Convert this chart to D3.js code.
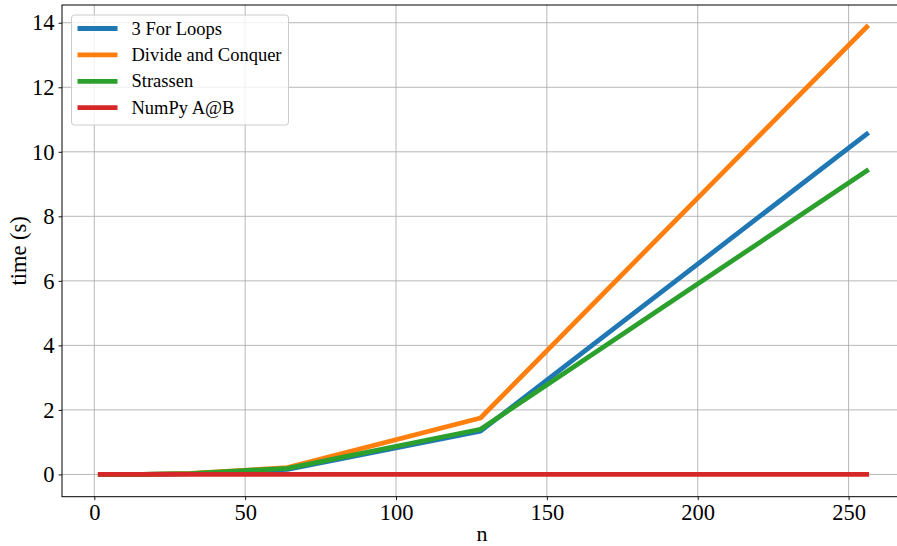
<!DOCTYPE html>
<html>
<head>
<meta charset="utf-8">
<script src="https://cdn.jsdelivr.net/npm/d3@7"></script>
<style>
  body { margin: 0; background: #fff; }
  svg { display: block; font-family: "Liberation Serif", "DejaVu Serif", serif; }
  .grid line { stroke: #b0b0b0; stroke-width: 0.9; }
</style>
</head>
<body>
<svg id="chart" width="897" height="546"></svg>
<script>
// matrix size n and run time in seconds
const sizes = [2, 4, 8, 16, 32, 64, 128, 256];
const forLoops = [0.0001, 0.0003, 0.0008, 0.004, 0.025, 0.16, 1.34, 10.55];
const divideConquer = [0.0001, 0.0003, 0.001, 0.005, 0.03, 0.21, 1.75, 13.87];
const strassen = [0.0001, 0.0003, 0.0009, 0.005, 0.028, 0.19, 1.40, 9.41];
const numpy = [0.00001, 0.00001, 0.00001, 0.00002, 0.00005, 0.0001, 0.0005, 0.003];

const seriesNames = ['3 For Loops', 'Divide and Conquer', 'Strassen', 'NumPy A@B'];
const seriesValues = [forLoops, divideConquer, strassen, numpy];
const colors = ['#1f77b4', '#ff7f0e', '#2ca02c', '#d62728'];
const xTicks = [0, 50, 100, 150, 200, 250];
const yTicks = [0, 2, 4, 6, 8, 10, 12, 14];

const svg = d3.select('#chart');
const mLeft = 62, mTop = 5, mBottom = 496.7, mRight = 905;

const x = d3.scaleLinear().domain([-10.7, 268.7]).range([mLeft, mRight]);
const y = d3.scaleLinear().domain([-0.69, 14.55]).range([mBottom, mTop]);

// grid
const grid = svg.append('g').attr('class', 'grid');
grid.selectAll('line.gx').data(xTicks).enter().append('line')
    .attr('x1', d => x(d)).attr('x2', d => x(d))
    .attr('y1', mTop).attr('y2', mBottom);
grid.selectAll('line.gy').data(yTicks).enter().append('line')
    .attr('x1', mLeft).attr('x2', mRight)
    .attr('y1', d => y(d)).attr('y2', d => y(d));

// lines
const line = d3.line().x(d => x(d[0])).y(d => y(d[1]));
seriesValues.forEach((vals, i) => {
    svg.append('path')
        .datum(sizes.map((n, j) => [n, vals[j]]))
        .attr('d', line)
        .attr('fill', 'none')
        .attr('stroke', colors[i])
        .attr('stroke-width', 4.8)
        .attr('stroke-linecap', 'square')
        .attr('stroke-linejoin', 'round');
});

// axes
const xAxis = d3.axisBottom(x).tickValues(xTicks).tickSize(3.5).tickPadding(4);
const yAxis = d3.axisLeft(y).tickValues(yTicks).tickSize(3.5).tickPadding(4);

const gx = svg.append('g').attr('transform', `translate(0,${mBottom})`).call(xAxis);
const gy = svg.append('g').attr('transform', `translate(${mLeft},0)`).call(yAxis);
[gx, gy].forEach(g => {
    g.selectAll('text').attr('font-size', 22.5).attr('fill', '#000')
        .attr('font-family', '"Liberation Serif", serif');
    g.selectAll('line').attr('stroke', '#000').attr('stroke-width', 0.9);
    g.select('.domain').remove();
});

// spines
svg.append('rect')
    .attr('x', mLeft).attr('y', mTop)
    .attr('width', mRight - mLeft).attr('height', mBottom - mTop)
    .attr('fill', 'none').attr('stroke', '#000').attr('stroke-width', 1);

// axis labels
svg.append('text')
    .attr('x', 482).attr('y', 541)
    .attr('text-anchor', 'middle').attr('font-size', 22)
    .text('n');
svg.append('text')
    .attr('transform', `translate(26,${(mTop + mBottom) / 2}) rotate(-90)`)
    .attr('text-anchor', 'middle').attr('font-size', 22.5)
    .text('time (s)');

// legend
const legend = svg.append('g').attr('transform', 'translate(71.5,15)');
legend.append('rect')
    .attr('width', 217).attr('height', 110)
    .attr('rx', 3).attr('fill', '#fff').attr('fill-opacity', 0.8)
    .attr('stroke', '#cccccc').attr('stroke-width', 1);
seriesNames.forEach((name, i) => {
    const ly = 13.5 + i * 26.4;
    legend.append('line')
        .attr('x1', 6).attr('x2', 46)
        .attr('y1', ly).attr('y2', ly)
        .attr('stroke', colors[i]).attr('stroke-width', 4.8);
    legend.append('text')
        .attr('x', 60).attr('y', ly + 6)
        .attr('font-size', 18.5)
        .text(name);
});
</script>
</body>
</html>
